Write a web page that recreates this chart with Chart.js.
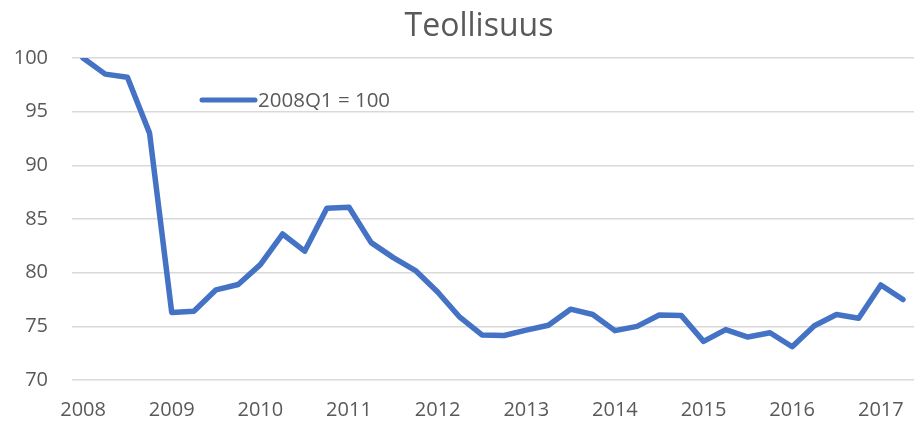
<!DOCTYPE html>
<html>
<head>
<meta charset="utf-8">
<script src="https://cdn.jsdelivr.net/npm/chart.js@4"></script>
<style>
html,body{margin:0;padding:0;background:#fff;}
#wrap{position:relative;width:921px;height:422px;}
</style>
</head>
<body>
<div id="wrap"><canvas id="c" width="921" height="422"></canvas></div>
<script>
const years = ['2008','2009','2010','2011','2012','2013','2014','2015','2016','2017'];
const quarters = ['Q1','Q2','Q3','Q4'];
const values = [100, 98.5, 98.2, 93.0, 76.3, 76.4, 78.4, 78.9, 80.75, 83.6, 82.0, 86.0, 86.1, 82.8, 81.4, 80.2, 78.2, 75.85, 74.2, 74.15, 74.65, 75.1, 76.6, 76.1, 74.6, 75.0, 76.05, 76.0, 73.6, 74.7, 74.0, 74.4, 73.1, 75.05, 76.1, 75.75, 78.85, 77.5];
const seriesName = '2008Q1 = 100';
const titleText = 'Teollisuus';

const categories = [];
years.forEach(y => quarters.forEach(q => { if (categories.length < values.length) categories.push(y + q); }));

const FONT = "'Open Sans', sans-serif";
const TXT = '#595959';

const decorPlugin = {
  id: 'decor',
  afterDraw(chart) {
    const ctx = chart.ctx;
    const a = chart.chartArea;
    ctx.save();
    // title
    ctx.fillStyle = TXT;
    ctx.font = "32px " + FONT;
    ctx.textAlign = 'center';
    ctx.textBaseline = 'middle';
    ctx.fillText(titleText, 479, 27);
    // legend inside plot
    const x0 = a.left + 130, y0 = a.top + 42;
    ctx.strokeStyle = '#4472C4';
    ctx.lineWidth = 5;
    ctx.lineCap = 'round';
    ctx.beginPath();
    ctx.moveTo(x0, y0);
    ctx.lineTo(x0 + 53, y0);
    ctx.stroke();
    ctx.font = "20.5px " + FONT;
    ctx.textAlign = 'left';
    ctx.fillText(seriesName, x0 + 56, y0 + 1);
    ctx.restore();
  }
};

new Chart(document.getElementById('c'), {
  type: 'line',
  data: {
    labels: categories,
    datasets: [{
      label: seriesName,
      data: values,
      borderColor: '#4472C4',
      backgroundColor: '#4472C4',
      borderWidth: 5.5,
      pointRadius: 0,
      tension: 0,
      borderJoinStyle: 'round',
      borderCapStyle: 'round'
    }]
  },
  options: {
    responsive: false,
    animation: false,
    layout: { padding: { left: 0, right: 1, top: 58, bottom: 0 } },
    plugins: {
      legend: { display: false },
      tooltip: { enabled: false },
      title: { display: false }
    },
    scales: {
      x: {
        offset: true,
        grid: { display: false, drawTicks: false },
        border: { display: false },
        afterFit: s => { s.height = 42; },
        ticks: {
          autoSkip: false,
          maxRotation: 0,
          padding: 18,
          color: TXT,
          font: { family: FONT, size: 20 },
          callback: function(v, i) { const l = categories[i]; return l.endsWith('Q1') ? l.slice(0,4) : ''; }
        }
      },
      y: {
        min: 70, max: 100,
        afterFit: s => { s.width = 72; },
        grid: { color: '#d9d9d9', lineWidth: 1.5, drawTicks: false },
        border: { display: false },
        ticks: {
          stepSize: 5,
          padding: 24,
          color: TXT,
          font: { family: FONT, size: 20 }
        }
      }
    }
  },
  plugins: [decorPlugin]
});
</script>
</body>
</html>
